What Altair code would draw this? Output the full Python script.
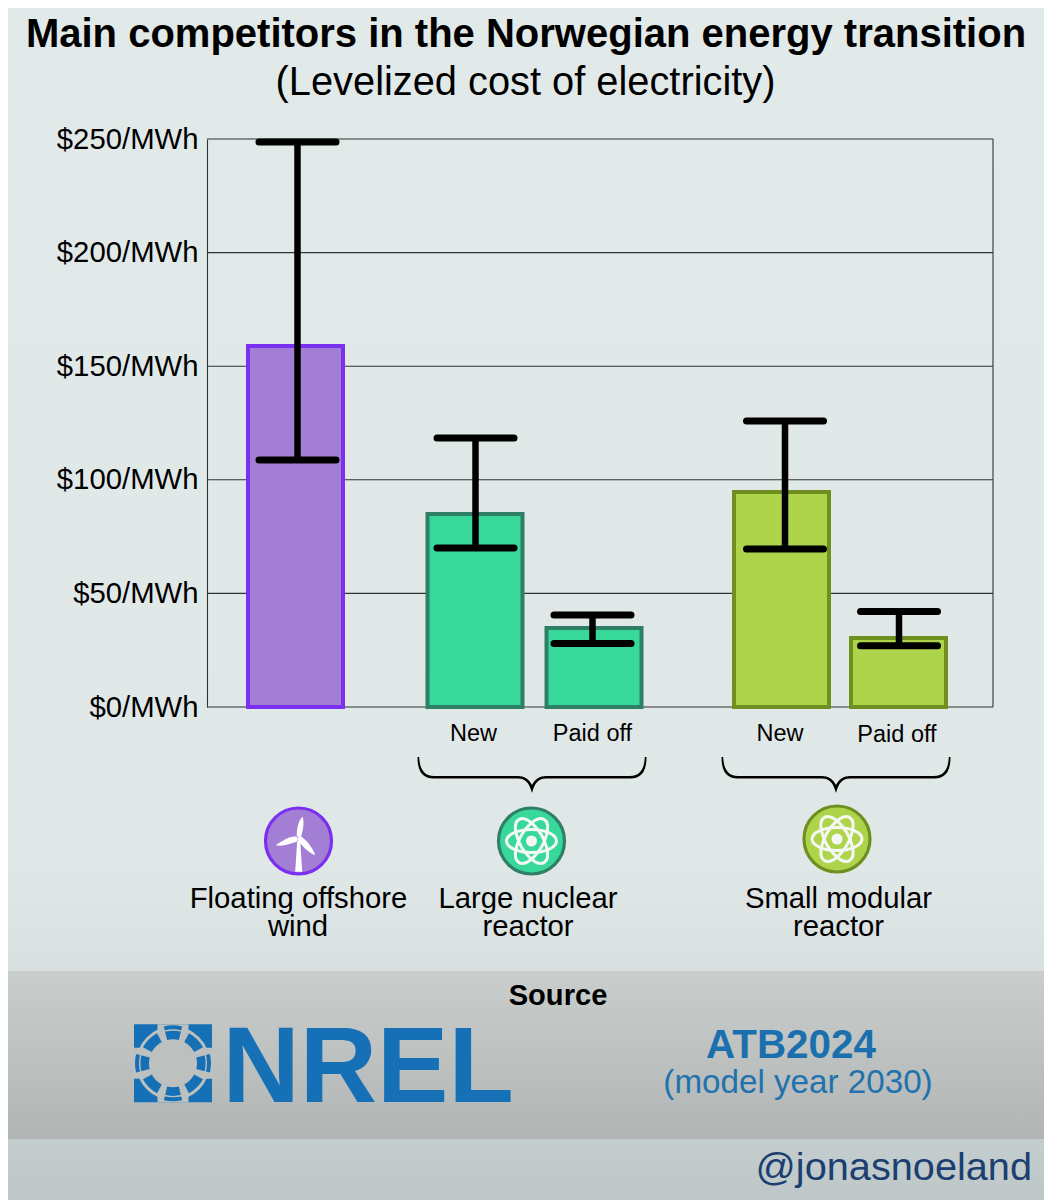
import math
import altair as alt
import pandas as pd

# ---- data ----
categories = ["Floating offshore wind", "Large nuclear new", "Large nuclear paid off", "SMR new", "SMR paid off"]
bar_values = [158.9, 85.0, 34.8, 94.6, 30.4]
err_low = [108.7, 70.0, 28.0, 69.5, 27.0]
err_high = [248.7, 118.4, 40.5, 125.9, 42.0]
fills = ["#a27fd4", "#38d89a", "#38d89a", "#aed44b", "#aed44b"]
strokes = ["#7b2ff0", "#2f7f66", "#2f7f66", "#6f8f1f", "#6f8f1f"]
y_ticks = [0, 50, 100, 150, 200, 250]

# ---- layout (page pixels) ----
PLOT_L, PLOT_T, PLOT_W, PLOT_H = 207, 139, 786, 568
bar_px = [295.5, 475, 594, 781.5, 898.5]
err_px = [297.5, 475.5, 592.5, 785, 899]
FONT = "Liberation Sans"


def X(p):
    return p - PLOT_L


def Y(p):
    return p - PLOT_T


frame = pd.DataFrame({
    "category": categories,
    "value": bar_values,
    "low": err_low,
    "high": err_high,
    "fill": fills,
    "stroke": strokes,
    "bar_x": [X(p) for p in bar_px],
    "err_x": [X(p) for p in err_px],
})
x_scale = alt.Scale(domain=[0, PLOT_W], nice=False, zero=False, padding=0)
y_scale = alt.Scale(domain=[0, 250], nice=False)
y_axis = alt.Axis(
    values=y_ticks, title=None, grid=False, ticks=False, zindex=1, domain=True,
    domainColor="#2f3434", domainWidth=1.1, labelFont=FONT, labelFontSize=29.3,
    labelColor="#000000", labelPadding=9, labelExpr="'$' + datum.value + '/MWh'",
)


def grad(*stops):
    return alt.LinearGradient(
        gradient="linear", x1=0, x2=0, y1=0, y2=1,
        stops=[alt.GradientStop(offset=o, color=c) for o, c in stops],
    )


def panel(x0, x1, y0, y1, fill):
    return alt.Chart().mark_rect(fill=fill).encode(
        x=alt.value(X(x0)), x2=alt.value(X(x1)), y=alt.value(Y(y0)), y2=alt.value(Y(y1))
    )


def label(s, x, y, size, bold=False, color="#000000", align="center"):
    return alt.Chart().mark_text(
        font=FONT, fontSize=size, fontWeight="bold" if bold else "normal",
        color=color, align=align, baseline="alphabetic",
    ).encode(x=alt.value(X(x)), y=alt.value(Y(y)), text=alt.value(s))


def glyph(path, x, y, fill=None, stroke=None, width=0):
    # custom symbol paths are drawn at sqrt(size)/2, so size 4 means one path unit per pixel
    kw = dict(shape=path, size=4, opacity=1)
    if fill:
        kw.update(filled=True, fill=fill, strokeWidth=0)
    else:
        kw.update(filled=False, stroke=stroke, strokeWidth=width)
    return alt.Chart().mark_point(**kw).encode(x=alt.value(X(x)), y=alt.value(Y(y)))


def disc(x, y, d, fill, stroke, width):
    return alt.Chart().mark_point(
        shape="circle", size=d * d, filled=True, fill=fill, stroke=stroke,
        strokeWidth=width, opacity=1,
    ).encode(x=alt.value(X(x)), y=alt.value(Y(y)))


def pol(r, deg):
    a = math.radians(deg)
    return r * math.cos(a), r * math.sin(a)


def band(r0, r1, mid, half):
    a, b = mid - half, mid + half
    p1, p2, p3, p4 = pol(r1, a), pol(r1, b), pol(r0, b), pol(r0, a)
    return (f"M{p1[0]:.2f},{p1[1]:.2f} A{r1},{r1} 0 0 1 {p2[0]:.2f},{p2[1]:.2f} "
            f"L{p3[0]:.2f},{p3[1]:.2f} A{r0},{r0} 0 0 0 {p4[0]:.2f},{p4[1]:.2f} Z ")


def ellipse(rx, ry, rot):
    p, q = pol(rx, rot), pol(-rx, rot)
    return (f"M{p[0]:.2f},{p[1]:.2f} A{rx},{ry} {rot} 1 1 {q[0]:.2f},{q[1]:.2f} "
            f"A{rx},{ry} {rot} 1 1 {p[0]:.2f},{p[1]:.2f} Z")


BRACE = ("M-114.5,-20 C-114.5,-6 -110,1.5 -98,1.5 L-14,1.5 C-7,1.5 -3,5 0,16 "
         "C3,5 7,1.5 14,1.5 L98,1.5 C110,1.5 114.5,-6 114.5,-20 L112.8,-20 "
         "C112.3,-8 108,-1 98,-1 L14,-1 C8,-1 3,2 0,8 C-3,2 -8,-1 -14,-1 "
         "L-98,-1 C-108,-1 -112.3,-8 -112.8,-20 Z")

TURBINE = ("M-1.3,-1 L1.3,-1 L3.5,33.5 L-3.5,33.5 Z "
           "M-2,-2 C-2,-10 0,-19 4,-21.5 C6,-15 4,-7 2.2,-1 Z "
           "M-2,-1.5 C-8,-3 -17,3 -23,7 C-15,8.5 -6,5 1,2 Z "
           "M1.5,-2.5 C7,1 14,9 16.5,17 C9,14 3,7 -1.5,1.5 Z")


def atom(x, y, fill):
    parts = [glyph(ellipse(25, 11.5, r), x, y, stroke="#f4f8f4", width=3) for r in (0, 60, 120)]
    parts.append(disc(x, y, 11, "#f4f8f4", fill, 0))
    return parts


# ---- NREL mark ----
LOGO_X, LOGO_Y, LOGO_BG, NREL_BLUE = 173, 1063.3, "#bcc0bf", "#1570b6"
logo_segments = "".join(band(24, 38, m, 14) for m in (0, 90, 180, 270)) + "".join(
    band(24, 34, m, 17) for m in (45, 135, 225, 315)
)
logo_slits = "".join(band(32.6, 34, m, 15) for m in (0, 90, 180, 270))
logo_cross = "M-15.5,-39 L15.5,-39 L15.5,-15.5 L39,-15.5 L39,15.5 L15.5,15.5 L15.5,39 L-15.5,39 L-15.5,15.5 L-39,15.5 L-39,-15.5 L-15.5,-15.5 Z"

# ---- layers ----
layers = [
    panel(0, 1052, 0, 1200, grad((0, "#e2e9e9"), (0.72, "#e0e7e7"), (0.78, "#dbe2e2"), (1, "#bec7c8"))),
    panel(2, 1052, 971, 1139, grad((0, "#c9cdcb"), (1, "#b1b5b5"))),
]

# gridlines and frame
layers.append(
    alt.Chart(pd.DataFrame({"tick": y_ticks})).mark_rule(color="#2f3434", strokeWidth=1.1).encode(
        y=alt.Y("tick:Q", scale=y_scale, axis=y_axis),
        x=alt.value(0), x2=alt.value(PLOT_W),
    )
)
layers.append(
    alt.Chart().mark_rule(color="#2f3434", strokeWidth=1.1).encode(
        x=alt.value(PLOT_W), y=alt.value(0), y2=alt.value(PLOT_H)
    )
)

# bars
bars = alt.Chart(frame).mark_bar(size=95, strokeWidth=4, orient="vertical").encode(
    x=alt.X("bar_x:Q", scale=x_scale, axis=None),
    y=alt.Y("value:Q", scale=y_scale, stack=None, axis=y_axis),
    fill=alt.Fill("fill:N", scale=None),
    stroke=alt.Stroke("stroke:N", scale=None),
)
layers.append(bars)

# error bars
layers.append(
    alt.Chart(frame).mark_rule(color="#000000", strokeWidth=6.5).encode(
        x=alt.X("err_x:Q", scale=x_scale, axis=None),
        y=alt.Y("low:Q", scale=y_scale, axis=y_axis),
        y2="high:Q",
    )
)
for field in ("low", "high"):
    layers.append(
        alt.Chart(frame).transform_calculate(a="datum.err_x - 38.5", b="datum.err_x + 38.5")
        .mark_rule(color="#000000", strokeWidth=7, strokeCap="round")
        .encode(
            x=alt.X("a:Q", scale=x_scale, axis=None),
            x2="b:Q",
            y=alt.Y(f"{field}:Q", scale=y_scale, axis=y_axis),
        )
    )

# labels beneath the bars
layers += [
    label("New", 473.5, 741, 23.5),
    label("Paid off", 592.5, 741, 23.5),
    label("New", 780, 741, 23.5),
    label("Paid off", 897, 742, 23.5),
    glyph(BRACE, 532, 777, fill="#000000"),
    glyph(BRACE, 836, 777, fill="#000000"),
]

# icons
layers.append(disc(298.5, 841, 66, "#a27fd4", "#7b2ff0", 3.2))
layers.append(glyph(TURBINE, 298.7, 838.3, fill="#ffffff"))
layers.append(disc(531.5, 841, 66, "#38d89a", "#2f7f66", 3.2))
layers += atom(531.5, 841, "#38d89a")
layers.append(disc(837, 839, 66, "#aed44b", "#6f8f1f", 3.2))
layers += atom(837, 839, "#aed44b")

layers += [
    label("Floating offshore", 298.5, 908, 29.3),
    label("wind", 298, 936, 29.3),
    label("Large nuclear", 528, 908, 29.3),
    label("reactor", 528, 936, 29.3),
    label("Small modular", 838.5, 908, 29.3),
    label("reactor", 838.5, 936, 29.3),
]

# titles
layers += [
    label("Main competitors in the Norwegian energy transition", 526, 47, 40, bold=True),
    label("(Levelized cost of electricity)", 525.5, 95, 39.8),
]

# source strip
layers += [
    label("Source", 558, 1005, 29.1, bold=True),
    alt.Chart().mark_point(shape="square", size=78 * 78, filled=True, fill=NREL_BLUE, opacity=1, strokeWidth=0).encode(
        x=alt.value(X(LOGO_X)), y=alt.value(Y(LOGO_Y))
    ),
    disc(LOGO_X, LOGO_Y, 74, LOGO_BG, LOGO_BG, 0),
    glyph(logo_cross, LOGO_X, LOGO_Y, fill=LOGO_BG),
    glyph(logo_segments, LOGO_X, LOGO_Y, fill=NREL_BLUE),
    glyph(logo_slits, LOGO_X, LOGO_Y, fill=LOGO_BG),
    label("NREL", 222.5, 1102, 107, bold=True, color=NREL_BLUE, align="left"),
    label("ATB2024", 791, 1058, 40.4, bold=True, color="#1a6fae"),
    label("(model year 2030)", 798, 1093, 33.2, color="#1f72ad"),
    label("@jonasnoeland", 1032, 1180, 39.7, color="#1b3f70", align="right"),
]

chart = alt.layer(*layers).properties(
    width=PLOT_W,
    height=PLOT_H,
    padding={"left": PLOT_L - 8, "top": PLOT_T - 8, "right": 1044 - (PLOT_L + PLOT_W), "bottom": 1200 - (PLOT_T + PLOT_H)},
    autosize=alt.AutoSizeParams(type="none"),
    background="#e2e9e9",
).configure_view(stroke=None)

chart.save("out.html", embed_options={"renderer": "svg", "actions": False})
